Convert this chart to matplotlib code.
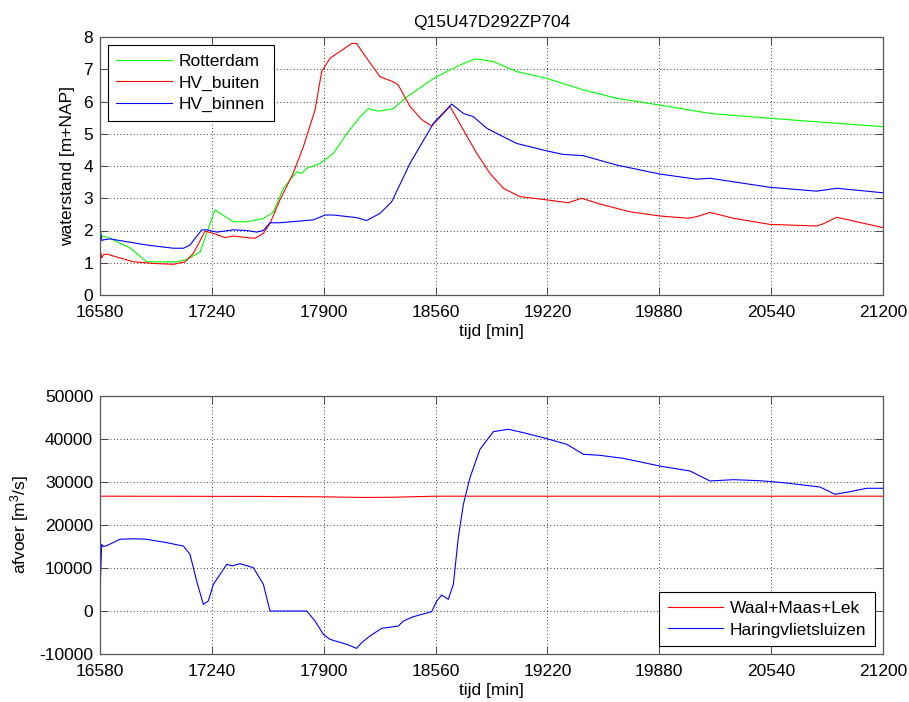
import numpy as np
import matplotlib.pyplot as plt

plt.rcParams['font.family'] = ['Liberation Sans', 'DejaVu Sans']
plt.rcParams['mathtext.default'] = 'regular'
plt.rcParams['axes.unicode_minus'] = False

# --- water levels [m+NAP] ---
rdam_t = [16580, 16639, 16760, 16855, 17032, 17091, 17170, 17258, 17367, 17446, 17544,
          17603, 17662, 17741, 17770, 17800, 17878, 17957, 18036, 18114, 18163, 18222,
          18311, 18390, 18547, 18645, 18704, 18793, 18900, 19038, 19215, 19432, 19628,
          19884, 20179, 20533, 20809, 21200]
rdam_h = [1.85, 1.76, 1.45, 1.03, 1.03, 1.10, 1.33, 2.64, 2.27, 2.27, 2.37,
          2.57, 3.31, 3.82, 3.77, 3.93, 4.08, 4.39, 5.00, 5.52, 5.78, 5.70,
          5.78, 6.14, 6.71, 6.98, 7.13, 7.32, 7.24, 6.93, 6.72, 6.36, 6.10,
          5.89, 5.63, 5.48, 5.37, 5.22]

buit_t = [16580, 16585, 16590, 16600, 16619, 16777, 16895, 17013, 17082, 17131, 17200,
          17249, 17318, 17367, 17446, 17495, 17544, 17583, 17642, 17721, 17780, 17849,
          17888, 17937, 17996, 18065, 18094, 18134, 18232, 18311, 18340, 18409, 18478,
          18537, 18645, 18724, 18803, 18881, 18960, 19058, 19215, 19343, 19422, 19530,
          19707, 19884, 20051, 20101, 20179, 20317, 20533, 20809, 20848, 20927, 21200]
buit_h = [1.10, 1.30, 1.15, 1.25, 1.27, 1.03, 0.98, 0.95, 1.03, 1.29, 1.98,
          1.91, 1.78, 1.83, 1.78, 1.76, 1.91, 2.22, 2.95, 3.79, 4.60, 5.74,
          6.93, 7.34, 7.55, 7.80, 7.80, 7.49, 6.77, 6.61, 6.51, 5.85, 5.44,
          5.24, 5.85, 5.12, 4.39, 3.77, 3.31, 3.05, 2.95, 2.86, 3.00, 2.82,
          2.58, 2.45, 2.38, 2.43, 2.56, 2.38, 2.19, 2.14, 2.21, 2.41, 2.09]

binn_t = [16580, 16585, 16592, 16600, 16639, 16855, 17013, 17072, 17111, 17180, 17210,
          17269, 17367, 17446, 17505, 17544, 17583, 17642, 17839, 17908, 17957, 18094,
          18153, 18232, 18301, 18409, 18547, 18655, 18724, 18783, 18862, 18921, 19038,
          19215, 19313, 19432, 19628, 19884, 20101, 20179, 20533, 20809, 20927, 21200]
binn_h = [2.05, 1.90, 1.68, 1.71, 1.74, 1.55, 1.45, 1.45, 1.55, 2.02, 2.02,
          1.95, 2.02, 2.00, 1.95, 2.00, 2.24, 2.24, 2.33, 2.48, 2.48, 2.40,
          2.31, 2.53, 2.89, 4.08, 5.32, 5.92, 5.63, 5.53, 5.17, 5.01, 4.70,
          4.47, 4.36, 4.32, 4.03, 3.75, 3.59, 3.62, 3.34, 3.22, 3.31, 3.17]

# --- discharges [m3/s] ---
wml_t = [16580, 17500, 17900, 18150, 18300, 18560, 19500, 21200]
wml_q = [26700, 26650, 26550, 26400, 26450, 26700, 26700, 26700]

hvs_t = [16580, 16590, 16600, 16620, 16698, 16777, 16850, 16973, 17072, 17111, 17150,
         17190, 17219, 17249, 17328, 17360, 17406, 17485, 17544, 17583, 17800, 17849,
         17898, 17937, 18036, 18094, 18124, 18173, 18242, 18340, 18370, 18429, 18537,
         18567, 18596, 18635, 18665, 18694, 18724, 18763, 18822, 18901, 18989, 19078,
         19196, 19334, 19432, 19530, 19668, 19884, 20061, 20179, 20317, 20474, 20612,
         20828, 20917, 21005, 21104, 21200]
hvs_q = [4300, 15500, 15000, 15200, 16680, 16800, 16700, 15900, 15100, 13200, 6980,
         1550, 2330, 6200, 10860, 10500, 11000, 10080, 6200, 0, 0, -2330,
         -5430, -6590, -7750, -8690, -7360, -5810, -4030, -3490, -2330, -1320, -150,
         2330, 3720, 2720, 6200, 17050, 24800, 31000, 37600, 41700, 42260, 41470,
         40300, 38770, 36450, 36200, 35500, 33700, 32560, 30240, 30540, 30300, 29840,
         28840, 27140, 27750, 28540, 28540]

xticks = [16580, 17240, 17900, 18560, 19220, 19880, 20540, 21200]
fs = 12.5

fig = plt.figure(figsize=(9.09, 7.02), dpi=100)
ax1 = fig.add_axes([100 / 909, 1 - 295 / 702, 783 / 909, 258 / 702])
ax2 = fig.add_axes([100 / 909, 1 - 654 / 702, 783 / 909, 258 / 702])


def style(ax):
    ax.set_xlim(16580, 21200)
    ax.set_xticks(xticks)
    ax.grid(True, color='black', linestyle=(0, (1, 3)), linewidth=0.6)
    ax.tick_params(direction='in', length=6, width=0.6, top=True, right=True,
                   labelsize=fs, pad=5, colors='#333333', labelcolor='black')
    ax.tick_params(axis='x', pad=7)
    for s in ax.spines.values():
        s.set_color('#555555')
        s.set_linewidth(0.9)
    ax.set_xlabel('tijd [min]', fontsize=fs, labelpad=3)


def legend(ax, loc):
    leg = ax.legend(loc=loc, fontsize=fs, fancybox=False, edgecolor='black',
                    framealpha=1, handlelength=3.2, handletextpad=0.4,
                    borderaxespad=0.45, labelspacing=0.38, borderpad=0.5)
    leg.get_frame().set_linewidth(0.8)
    return leg


ax1.plot(rdam_t, rdam_h, color='#00ff00', lw=0.8, label='Rotterdam')
ax1.plot(buit_t, buit_h, color='#ff0000', lw=0.8, label='HV_buiten')
ax1.plot(binn_t, binn_h, color='#0000ff', lw=0.8, label='HV_binnen')
style(ax1)
ax1.set_ylim(0, 8)
ax1.set_yticks(range(0, 9))
ax1.set_ylabel('waterstand [m+NAP]', fontsize=fs, labelpad=6)
ax1.set_title('Q15U47D292ZP704', fontsize=fs, pad=7)
legend(ax1, 'upper left')

ax2.plot(wml_t, wml_q, color='#ff0000', lw=0.8, label='Waal+Maas+Lek')
ax2.plot(hvs_t, hvs_q, color='#0000ff', lw=0.8, label='Haringvlietsluizen')
style(ax2)
ax2.set_ylim(-10000, 50000)
ax2.set_yticks(range(-10000, 50001, 10000))
ax2.set_ylabel('afvoer [m$^3$/s]', fontsize=fs, labelpad=6)
legend(ax2, 'lower right')

fig.savefig('out.png', dpi=100, facecolor='white')
